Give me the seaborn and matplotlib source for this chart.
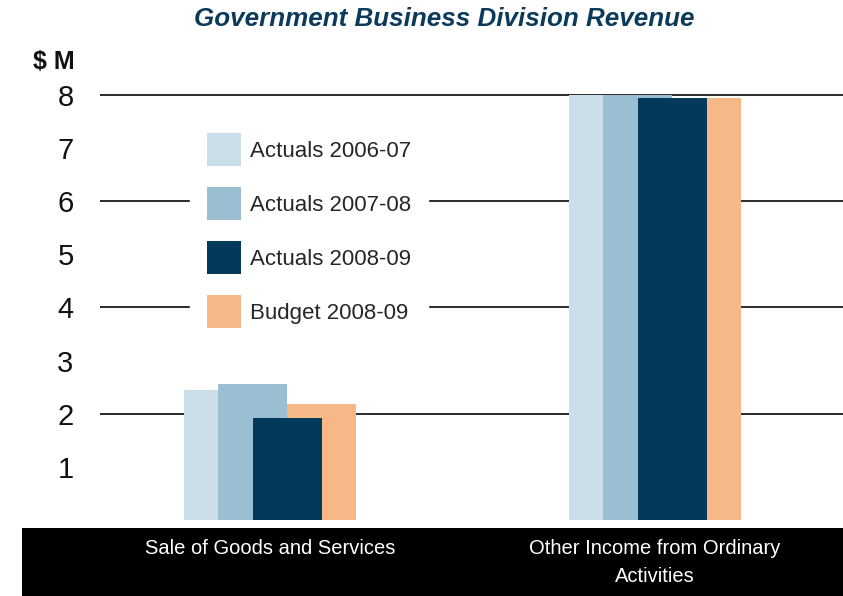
import matplotlib
matplotlib.use("Agg")
import matplotlib.pyplot as plt
from matplotlib.patches import Patch, Rectangle
from matplotlib import font_manager
import seaborn as sns
import pandas as pd

# ---- data ($ millions) ----
categories = ["Sale of Goods and Services", "Other Income from Ordinary\nActivities"]
series = ["Actuals 2006-07", "Actuals 2007-08", "Actuals 2008-09", "Budget 2008-09"]
actuals_2006_07 = [2.45, 7.99]
actuals_2007_08 = [2.56, 7.99]
actuals_2008_09 = [1.92, 7.94]
budget_2008_09 = [2.18, 7.94]
y_ticks = [1, 2, 3, 4, 5, 6, 7, 8]
grid_levels = [2, 4, 6, 8]

# ---- style ----
colors = ["#cbdfea", "#9bbfd2", "#033a5b", "#f6b886"]
stack_rank = [1, 2, 4, 3]          # overlap order of the series
navy = "#0b3a5a"

sns.set_style("white")
plt.rcParams["font.family"] = ["Liberation Sans", "DejaVu Sans"]

installed = {f.name for f in font_manager.fontManager.ttflist}
if "Liberation Sans Narrow" in installed:
    cat_font, cat_size = ["Liberation Sans Narrow", "Liberation Sans"], 17
else:
    cat_font, cat_size = ["Liberation Sans", "DejaVu Sans"], 14.5

df = pd.DataFrame({
    "category": categories * len(series),
    "series": [s for s in series for _ in categories],
    "value": actuals_2006_07 + actuals_2007_08 + actuals_2008_09 + budget_2008_09,
})

W, H = 843, 596
fig = plt.figure(figsize=(W / 100, H / 100), dpi=100)
ax = fig.add_axes([100 / W, 76 / H, 743 / W, (520 - 89.5) / H])

sns.barplot(data=df, x="category", y="value", hue="series",
            order=categories, hue_order=series,
            palette=dict(zip(series, colors)), width=0.358, dodge=True,
            saturation=1, errorbar=None, legend=False, linewidth=0, ax=ax)

# overlapping bars: each bar twice as wide as its dodge slot
for container, rank in zip(ax.containers, stack_rank):
    for bar in container:
        cx = bar.get_x() + bar.get_width() / 2
        w = bar.get_width() * 2
        bar.set_x(cx - w / 2)
        bar.set_width(w)
        bar.set_zorder(2 + rank)
        bar.set_edgecolor("none")

for level in grid_levels:
    ax.axhline(level, color="#1a1a1a", lw=1.3, zorder=1)

ax.set_xlim(-0.4416, 1.4883)
ax.set_ylim(0, 8.1)
ax.set_yticks(y_ticks)
ax.set_yticklabels([str(t) for t in y_ticks], fontsize=21, color="#111111")
ax.tick_params(axis="y", length=0, pad=19)
ax.tick_params(axis="x", length=0, pad=14, labelcolor="white")
for lab in ax.get_xticklabels():
    lab.set_fontfamily(cat_font)
    lab.set_fontsize(cat_size)
    lab.set_linespacing(1.55)
ax.set_xlabel("")
ax.set_ylabel("")
for sp in ax.spines.values():
    sp.set_visible(False)
ax.grid(False)

# black band behind the category labels
fig.patches.append(Rectangle((22 / W, 0), 1 - 22 / W, 68 / H,
                             transform=fig.transFigure, facecolor="black",
                             edgecolor="none", zorder=-1))

handles = [Patch(facecolor=c, edgecolor="none", label=s) for s, c in zip(series, colors)]
leg = ax.legend(handles=handles, loc="upper left",
                bbox_to_anchor=(190 / W, 1 - 116 / H), bbox_transform=fig.transFigure,
                fontsize=16, handlelength=1.53, handleheight=1.9,
                labelspacing=0.95, handletextpad=0.4, borderpad=0.77,
                borderaxespad=0, frameon=True, fancybox=False, framealpha=1,
                edgecolor="white", facecolor="white")
leg.set_zorder(10)

fig.text(444 / W, 1 - 19 / H, "Government Business Division Revenue",
         ha="center", va="center", fontsize=18.7, fontweight="bold",
         fontstyle="italic", color=navy)
fig.text(54 / W, 1 - 62 / H, "$ M", ha="center", va="center",
         fontsize=18, fontweight="bold", color="#111111")

fig.savefig("out.png", dpi=100)
